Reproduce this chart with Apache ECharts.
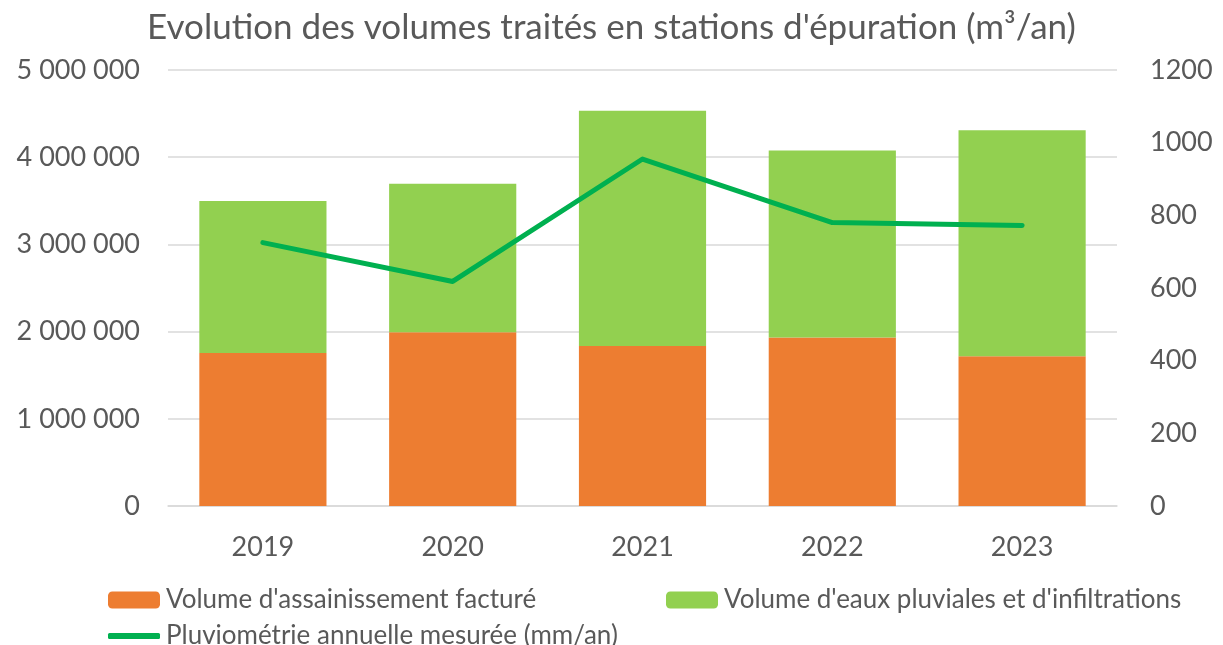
<!DOCTYPE html>
<html>
<head>
<meta charset="utf-8">
<script src="https://cdn.jsdelivr.net/npm/echarts@6/dist/echarts.min.js"></script>
<style>
  html, body { margin: 0; padding: 0; background: #fff; }
  #chart { width: 1223px; height: 645px; }
</style>
</head>
<body>
<div id="chart"></div>
<script>
// années
var years = ['2019', '2020', '2021', '2022', '2023'];
// volume facturé (m3)
var volFacture = [1756000, 1993000, 1836000, 1932000, 1718000];
// eaux pluviales + infiltrations (m3)
var volPluvial = [1741000, 1703000, 2697000, 2146000, 2592000];
// pluviométrie (mm/an)
var pluvio = [725, 618, 955, 780, 772];

var nomFacture = "Volume d'assainissement facturé";
var nomPluvial = "Volume d'eaux pluviales et d'infiltrations";
var nomPluvio = "Pluviométrie annuelle mesurée (mm/an)";

var font = 'Lato, "Open Sans", sans-serif';
var grey = '#595959';

function milliers(v) {
  return String(v).replace(/\B(?=(\d{3})+(?!\d))/g, ' ');
}

var chart = echarts.init(document.getElementById('chart'), null, { renderer: 'canvas' });

var legendCommon = {
  itemWidth: 52,
  itemHeight: 17,
  itemGap: 8,
  textStyle: { color: grey, fontSize: 26, fontFamily: font, padding: [0, 0, 0, 1] },
  selectedMode: false
};

var option = {
  animation: false,
  title: {
    text: "Evolution des volumes traités en stations d'épuration (m³/an)",
    left: 'center',
    top: 5,
    textStyle: { color: grey, fontSize: 35, fontWeight: 'normal', fontFamily: font }
  },
  legend: [
    Object.assign({}, legendCommon, { left: 103, top: 582, data: [nomFacture] }),
    Object.assign({}, legendCommon, { left: 661, top: 582, data: [nomPluvial] }),
    Object.assign({}, legendCommon, {
      left: 103, top: 618, itemHeight: 6,
      data: [{ name: nomPluvio, icon: 'roundRect' }]
    })
  ],
  grid: { left: 168, right: 106, top: 70, bottom: 139 },
  xAxis: {
    type: 'category',
    data: years,
    axisLine: { lineStyle: { color: '#d9d9d9', width: 1.5 } },
    axisTick: { show: false },
    axisLabel: { color: grey, fontSize: 27, fontFamily: font, margin: 28 }
  },
  yAxis: [
    {
      type: 'value',
      min: 0,
      max: 5000000,
      interval: 1000000,
      axisLine: { show: false },
      axisTick: { show: false },
      splitLine: { lineStyle: { color: '#d9d9d9', width: 1.5 } },
      axisLabel: { color: grey, fontSize: 27, fontFamily: font, margin: 28, formatter: milliers }
    },
    {
      type: 'value',
      min: 0,
      max: 1200,
      interval: 200,
      axisLine: { show: false },
      axisTick: { show: false },
      splitLine: { show: false },
      axisLabel: { color: grey, fontSize: 27, fontFamily: font, margin: 33, formatter: function (v) { return String(v); } }
    }
  ],
  series: [
    {
      name: nomFacture,
      type: 'bar',
      stack: 'vol',
      barWidth: '67%',
      data: volFacture,
      itemStyle: { color: '#ed7d31' }
    },
    {
      name: nomPluvial,
      type: 'bar',
      stack: 'vol',
      data: volPluvial,
      itemStyle: { color: '#92d050' }
    },
    {
      name: nomPluvio,
      type: 'line',
      yAxisIndex: 1,
      data: pluvio,
      symbol: 'none',
      lineStyle: { color: '#00b050', width: 5, cap: 'round', join: 'round' },
      itemStyle: { color: '#00b050' }
    }
  ]
};

chart.setOption(option);
</script>
</body>
</html>
